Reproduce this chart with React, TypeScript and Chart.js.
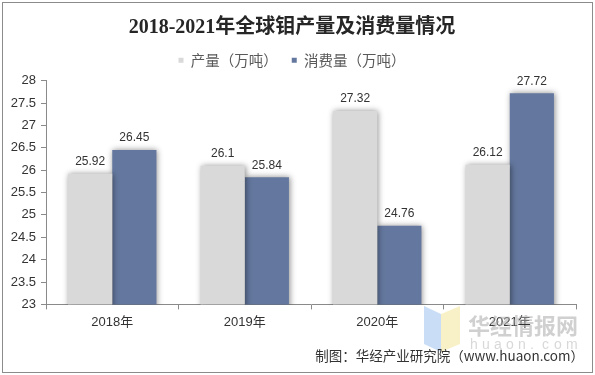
import React, { useEffect, useRef } from "react";
import { Chart, registerables } from "chart.js";

Chart.register(...registerables);

const categories = ["2018年", "2019年", "2020年", "2021年"];
const productionValues = [25.92, 26.1, 27.32, 26.12];
const consumptionValues = [26.45, 25.84, 24.76, 27.72];
const seriesNames = ["产量（万吨）", "消费量（万吨）"];
const titleText = "2018-2021年全球钼产量及消费量情况";
const sourceText = "制图：华经产业研究院（www.huaon.com）";

const GRAY = "#D9D9D9";
const BLUE = "#64789F";
const AXIS = "#8A8A8A";
const SANS = '"Liberation Sans", Arial, "Noto Sans CJK SC", sans-serif';

const shadowPlugin = {
  id: "barShadow",
  beforeDatasetsDraw(chart: any) {
    const ctx = chart.ctx;
    ctx.save();
    ctx.shadowColor = "rgba(0,0,0,0.45)";
    ctx.shadowBlur = 6;
    ctx.shadowOffsetX = 1;
    ctx.shadowOffsetY = 0;
  },
  afterDatasetsDraw(chart: any) {
    chart.ctx.restore();
  },
};

const labelPlugin = {
  id: "valueLabels",
  afterDraw(chart: any) {
    const ctx = chart.ctx;
    ctx.save();
    ctx.font = "12px " + SANS;
    ctx.fillStyle = "#333333";
    ctx.textAlign = "center";
    ctx.textBaseline = "bottom";
    chart.data.datasets.forEach((ds: any, i: number) => {
      const meta = chart.getDatasetMeta(i);
      meta.data.forEach((bar: any, j: number) => {
        ctx.fillText(String(ds.data[j]), bar.x, bar.y - 6);
      });
    });
    ctx.restore();
  },
};

const decorPlugin = {
  id: "decor",
  afterDraw(chart: any) {
    const ctx = chart.ctx;
    const w = chart.width;
    const h = chart.height;
    ctx.save();
    // watermark logo
    ctx.globalAlpha = 0.55;
    ctx.fillStyle = "#9CC3EE";
    ctx.beginPath();
    ctx.moveTo(424, 306);
    ctx.lineTo(441, 314);
    ctx.lineTo(441, 352);
    ctx.lineTo(424, 344);
    ctx.closePath();
    ctx.fill();
    ctx.fillStyle = "#F3E59A";
    ctx.beginPath();
    ctx.moveTo(441, 314);
    ctx.lineTo(460, 306);
    ctx.lineTo(460, 344);
    ctx.lineTo(441, 352);
    ctx.closePath();
    ctx.fill();
    ctx.globalAlpha = 1;
    ctx.fillStyle = "rgba(170,170,170,0.55)";
    ctx.font = 'bold 22px "Noto Sans CJK SC", sans-serif';
    ctx.textAlign = "left";
    ctx.textBaseline = "middle";
    ctx.fillText("华经情报网", 468, 326);
    ctx.font = "14px " + SANS;
    ctx.fillStyle = "rgba(190,190,190,0.6)";
    const wm = "huaon.com";
    for (let k = 0; k < wm.length; k++) {
      ctx.fillText(wm[k], 470 + k * 12, 345);
    }
    // source text
    ctx.fillStyle = "#333333";
    ctx.font = '13.5px "Noto Sans CJK SC", sans-serif';
    ctx.textAlign = "right";
    ctx.fillText(sourceText, 584, 356);
    // outer border
    ctx.strokeStyle = "#8C8C8C";
    ctx.lineWidth = 1;
    ctx.strokeRect(2.5, 2.5, w - 5, h - 5);
    ctx.restore();
  },
};

export default function App() {
  const canvasRef = useRef<HTMLCanvasElement | null>(null);

  useEffect(() => {
    document.body.style.margin = "0";
    const canvas = canvasRef.current;
    if (!canvas) return;
    const chart = new Chart(canvas, {
      type: "bar",
      data: {
        labels: categories,
        datasets: [
          {
            label: seriesNames[0],
            data: productionValues,
            backgroundColor: GRAY,
            borderWidth: 0,
          },
          {
            label: seriesNames[1],
            data: consumptionValues,
            backgroundColor: BLUE,
            borderWidth: 0,
          },
        ],
      },
      options: {
        animation: false,
        responsive: false,
        maintainAspectRatio: false,
        devicePixelRatio: 1,
        layout: { padding: { left: 8, right: 19, top: 0, bottom: 40 } },
        datasets: {
          bar: { categoryPercentage: 0.667, barPercentage: 1 },
        },
        plugins: {
          title: {
            display: true,
            text: titleText,
            color: "#262626",
            font: { family: '"Liberation Serif", "Noto Sans CJK SC", serif', size: 20, weight: "bold" },
            padding: { top: 16, bottom: -1 },
          },
          subtitle: {
            display: true,
            text: " ",
            position: "top",
            font: { size: 1 },
            padding: { top: 0, bottom: 2 },
          },
          legend: {
            display: true,
            position: "top",
            weight: 1600,
            labels: {
              boxWidth: 5,
              boxHeight: 5,
              color: "#595959",
              font: { family: '"Noto Sans CJK SC", sans-serif', size: 14.5 },
              padding: 14,
            },
          },
          tooltip: { enabled: false },
        },
        scales: {
          x: {
            grid: {
              display: true,
              drawOnChartArea: false,
              drawTicks: true,
              tickLength: 5,
              color: AXIS,
              offset: true,
            },
            border: { display: true, color: AXIS },
            ticks: {
              color: "#333333",
              font: { family: SANS, size: 13 },
              padding: 5,
            },
          },
          y: {
            min: 23,
            max: 28,
            ticks: {
              stepSize: 0.5,
              color: "#333333",
              font: { family: SANS, size: 13 },
              padding: 5,
              callback: (v: any) => String(Number(v)),
            },
            grid: {
              display: true,
              drawOnChartArea: false,
              drawTicks: true,
              tickLength: 5,
              color: AXIS,
            },
            border: { display: true, color: AXIS },
            afterFit: (scale: any) => {
              scale.width = 38;
            },
          },
        },
      },
      plugins: [shadowPlugin, labelPlugin, decorPlugin],
    });
    return () => chart.destroy();
  }, []);

  return <canvas ref={canvasRef} width={595} height={375} style={{ display: "block" }} />;
}
